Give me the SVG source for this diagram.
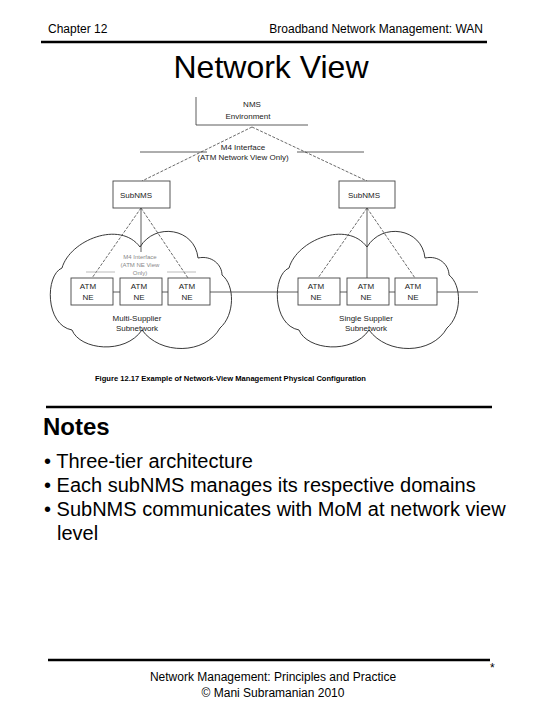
<svg xmlns="http://www.w3.org/2000/svg" width="540" height="720" viewBox="0 0 540 720">
<style>
text{font-family:"Liberation Sans",Arial,sans-serif;fill:#000}
.hd{font-size:12px}
.sm{font-size:8px;fill:#222}
.tiny{font-size:6px;fill:#888}
.ln{stroke:#333;stroke-width:0.8;fill:none}
.dl{stroke:#444;stroke-width:0.8;fill:none;stroke-dasharray:3,1.5}
.fl{stroke:#aaa;stroke-width:0.8;fill:none}
.box{fill:#fff;stroke:#444;stroke-width:0.9}
.cloud{fill:none;stroke:#222;stroke-width:0.9}
.rule{stroke:#000;stroke-width:2.5}
.bl{font-size:20px}
</style>
<defs>
<path id="cl" d="M62,268 C70,240 120,220 140,247 C155,222 195,228 198,258 C212,255 222,265 222,275 C235,285 235,315 220,328 C205,355 160,355 142,330 C125,355 80,350 72,330 C45,325 45,275 62,268 Z"/>
</defs>
<g id="header">
<text class="hd" x="48" y="33">Chapter 12</text>
<text class="hd" x="483" y="33" text-anchor="end">Broadband Network Management:  WAN</text>
<line class="rule" x1="41" y1="42" x2="487" y2="42"/>
<text x="271" y="78" font-size="32" text-anchor="middle">Network View</text>
</g>
<g id="clouds">
<use href="#cl" class="cloud"/>
<use href="#cl" class="cloud" transform="translate(227,0)"/>
</g>
<g id="connectors">
<line class="ln" x1="196" y1="97" x2="196" y2="125"/>
<line class="ln" x1="196" y1="125" x2="308" y2="125"/>
<line class="dl" x1="252" y1="127" x2="142" y2="181"/>
<line class="dl" x1="252" y1="127" x2="367" y2="181"/>
<line class="ln" x1="140" y1="152" x2="207" y2="152"/>
<line class="ln" x1="297" y1="152" x2="364" y2="152"/>
<line class="dl" x1="141" y1="208" x2="92" y2="278"/>
<line class="ln" x1="141" y1="208" x2="141" y2="252"/>
<line class="dl" x1="141" y1="208" x2="188" y2="278"/>
<line class="fl" x1="86" y1="272" x2="196" y2="272"/>
<line class="dl" x1="367" y1="208" x2="318" y2="278"/>
<line class="ln" x1="367" y1="208" x2="367" y2="278"/>
<line class="dl" x1="367" y1="208" x2="415" y2="278"/>
<line class="ln" x1="113" y1="292" x2="120" y2="292"/>
<line class="ln" x1="162" y1="292" x2="168" y2="292"/>
<line class="ln" x1="210" y1="292" x2="298" y2="292"/>
<line class="ln" x1="340" y1="292" x2="347" y2="292"/>
<line class="ln" x1="389" y1="292" x2="395" y2="292"/>
<line class="ln" x1="437" y1="292" x2="478" y2="292"/>
</g>
<g id="nms">
<text class="sm" x="252" y="107" text-anchor="middle">NMS</text>
<text class="sm" x="248" y="119" text-anchor="middle">Environment</text>
</g>
<g id="m4">
<text class="sm" x="243" y="150" text-anchor="middle" font-size="7">M4 Interface</text>
<text class="sm" x="243" y="160" text-anchor="middle" font-size="7">(ATM Network View Only)</text>
</g>
<g id="subnms-left">
<rect class="box" x="113" y="181" width="57" height="27"/>
<text class="sm" x="120" y="198">SubNMS</text>
</g>
<g id="subnms-right">
<rect class="box" x="339" y="181" width="56" height="27"/>
<text class="sm" x="348" y="198">SubNMS</text>
</g>
<g id="m4-inner">
<rect x="115" y="253" width="52" height="24" fill="#fff"/>
<text class="tiny" x="140" y="259" text-anchor="middle">M4 Interface</text>
<text class="tiny" x="140" y="267" text-anchor="middle">(ATM NE View</text>
<text class="tiny" x="140" y="275" text-anchor="middle">Only)</text>
</g>
<g id="ne1"><rect class="box" x="71" y="278" width="42" height="27"/><text class="sm" x="88" y="289" text-anchor="middle">ATM</text><text class="sm" x="88" y="300" text-anchor="middle">NE</text></g>
<g id="ne2"><rect class="box" x="120" y="278" width="42" height="27"/><text class="sm" x="139" y="289" text-anchor="middle">ATM</text><text class="sm" x="139" y="300" text-anchor="middle">NE</text></g>
<g id="ne3"><rect class="box" x="168" y="278" width="42" height="27"/><text class="sm" x="187" y="289" text-anchor="middle">ATM</text><text class="sm" x="187" y="300" text-anchor="middle">NE</text></g>
<g id="ne4"><rect class="box" x="298" y="278" width="42" height="27"/><text class="sm" x="316" y="289" text-anchor="middle">ATM</text><text class="sm" x="316" y="300" text-anchor="middle">NE</text></g>
<g id="ne5"><rect class="box" x="347" y="278" width="42" height="27"/><text class="sm" x="366" y="289" text-anchor="middle">ATM</text><text class="sm" x="366" y="300" text-anchor="middle">NE</text></g>
<g id="ne6"><rect class="box" x="395" y="278" width="42" height="27"/><text class="sm" x="413" y="289" text-anchor="middle">ATM</text><text class="sm" x="413" y="300" text-anchor="middle">NE</text></g>
<g id="subnet-labels">
<text class="sm" x="137" y="321" text-anchor="middle" font-size="7">Multi-Supplier</text>
<text class="sm" x="137" y="331" text-anchor="middle" font-size="7">Subnetwork</text>
<text class="sm" x="366" y="321" text-anchor="middle" font-size="7">Single Supplier</text>
<text class="sm" x="366" y="331" text-anchor="middle" font-size="7">Subnetwork</text>
</g>
<g id="caption">
<text x="95" y="381" font-size="7.5" font-weight="bold" textLength="271" lengthAdjust="spacingAndGlyphs">Figure 12.17  Example of Network-View Management Physical Configuration</text>
</g>
<g id="notes">
<line class="rule" x1="46" y1="407" x2="492" y2="407"/>
<text x="43" y="435" font-size="24" font-weight="bold">Notes</text>
<text class="bl" x="44" y="468">• Three-tier architecture</text>
<text class="bl" x="44" y="492">• Each subNMS manages its respective domains</text>
<text class="bl" x="44" y="516">• SubNMS communicates with MoM at network view</text>
<text class="bl" x="57" y="540">level</text>
</g>
<g id="footer">
<line class="rule" x1="48" y1="660" x2="490" y2="660"/>
<text class="hd" x="490" y="672" font-size="12">*</text>
<text class="hd" x="273" y="681" text-anchor="middle">Network Management: Principles and Practice</text>
<text class="hd" x="273" y="697" text-anchor="middle">©  Mani Subramanian 2010</text>
</g>
</svg>
